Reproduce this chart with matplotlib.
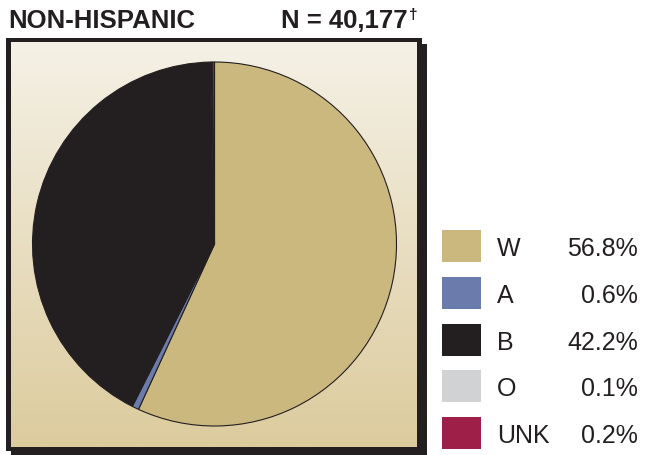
import numpy as np
import matplotlib
matplotlib.use("Agg")
import matplotlib.pyplot as plt
from matplotlib.patches import Rectangle

# ---- data ----
categories = ["W", "A", "B", "O", "UNK"]
shares = [56.8, 0.6, 42.2, 0.1, 0.2]
pct_labels = ["56.8%", "0.6%", "42.2%", "0.1%", "0.2%"]
colors = ["#cbb87e", "#6b7bab", "#231f20", "#d1d2d4", "#9e1f48"]
title_left = "NON-HISPANIC"
title_right = "N = 40,177"
title_mark = "\u2020"

W, H = 660, 456
plt.rcParams['font.family'] = ['Liberation Sans', 'DejaVu Sans']
fig = plt.figure(figsize=(W / 100, H / 100), dpi=100)

bg = fig.add_axes([0, 0, 1, 1])
bg.set_xlim(0, W)
bg.set_ylim(H, 0)
bg.axis('off')

dark = "#231f20"
# shadow
bg.add_patch(Rectangle((11, 45), 416, 420, facecolor=dark, edgecolor='none', zorder=1))
# frame
bg.add_patch(Rectangle((6, 39), 416, 413, facecolor=dark, edgecolor='none', zorder=2))
# gradient inside
top = np.array([0xf5, 0xf1, 0xe6]) / 255
bot = np.array([0xdc, 0xcb, 0x9d]) / 255
t = np.linspace(0, 1, 256)[:, None]
grad = (top[None, :] * (1 - t) + bot[None, :] * t)[:, None, :]
bg.imshow(grad, extent=(11, 417, 448, 43), aspect='auto', zorder=3, interpolation='bilinear')
bg.set_xlim(0, W)
bg.set_ylim(H, 0)

# titles
bg.text(8, 28, title_left, fontsize=18.5, fontweight='bold', color=dark, va='baseline', ha='left', zorder=5)
bg.text(408, 28, title_right, fontsize=18.5, fontweight='bold', color=dark, va='baseline', ha='right', zorder=5)
bg.text(408.5, 19, title_mark, fontsize=11, fontweight='bold', color=dark, va='baseline', ha='left', zorder=5)

# legend
row_centers = [247, 294, 341, 387, 434]
for cat, lab, col, yc in zip(categories, pct_labels, colors, row_centers):
    bg.add_patch(Rectangle((442, yc - 16), 39, 32, facecolor=col, edgecolor='none', zorder=5))
    bg.text(497, yc + 9, cat, fontsize=18, color=dark, va='baseline', ha='left', zorder=5)
    bg.text(638, yc + 9, lab, fontsize=18, color=dark, va='baseline', ha='right', zorder=5)

# pie
cx, cy, r = 214.5, 245, 182
pax = fig.add_axes([(cx - r) / W, (H - cy - r) / H, 2 * r / W, 2 * r / H])
pax.pie(shares, colors=colors, startangle=90, counterclock=False,
        wedgeprops=dict(edgecolor=dark, linewidth=0.8))
pax.set_xlim(-1, 1)
pax.set_ylim(-1, 1)
pax.set_aspect('equal')
pax.axis('off')

fig.savefig("out.png", dpi=100)
